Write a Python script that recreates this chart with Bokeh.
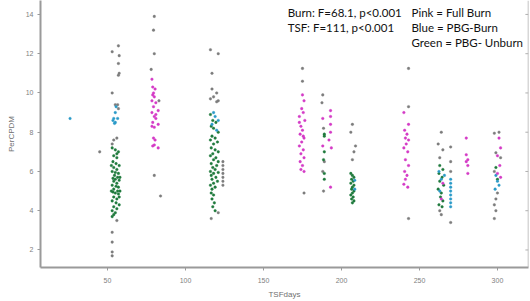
from bokeh.plotting import figure
from bokeh.models import ColumnDataSource, Label, Range1d, FixedTicker, Span
from bokeh.embed import file_html
from bokeh.resources import INLINE

# ---- data (TSF days, PerCPDM) ----
pink_x = [78.5, 79, 80.5, 79, 80, 78.5, 81, 79.5, 82.5, 78.5, 80, 81, 79, 82.5, 78.5, 80, 79.5, 80.5, 79, 80, 82.5, 81, 79.5,
          175, 176, 174.5, 175.5, 173, 176.5, 174, 175, 173.5, 176, 174.5, 173, 175.5, 174, 176, 173.5, 175, 174, 175.5, 173, 176,
          193, 193, 193, 193, 192, 193.5, 193, 188, 188,
          240, 243, 240.5, 242, 241, 243, 241.5, 240, 242.5, 241, 243, 240.5, 242, 241, 240, 242.5,
          265, 264,
          280, 280, 281, 281, 281, 280,
          301, 302, 300, 301.5, 300, 302]
pink_y = [10.7, 10.3, 10.2, 9.9, 9.8, 9.6, 9.5, 9.3, 9.1, 9.0, 8.8, 8.7, 8.5, 8.4, 8.3, 8.25, 7.7, 7.6, 7.3, 7.35, 7.2, 8.9, 10.0,
          9.9, 9.6, 9.2, 9.0, 8.8, 8.6, 8.3, 8.1, 7.9, 7.7, 7.5, 7.3, 7.1, 6.9, 6.7, 6.5, 6.3, 6.1, 7.8, 8.5, 6.0,
          9.1, 8.8, 8.4, 8.0, 7.6, 7.2, 5.2, 8.7, 7.3,
          9.0, 8.4, 8.1, 7.9, 7.7, 7.6, 7.4, 7.2, 7.0, 6.6, 6.3, 6.0, 5.8, 5.6, 5.35, 5.2,
          5.4, 4.6,
          7.7, 6.85, 6.6, 6.3, 5.9, 6.5,
          7.7, 7.2, 6.8, 6.3, 5.9, 5.7]

blue_x = [26, 55, 54, 53.5, 55, 54.5, 56.5, 55.5,
          118, 119, 121, 117, 120,
          208.5, 208.5,
          262.5, 264, 266, 263, 270, 270, 270, 270, 270, 270, 270, 270,
          299, 300, 301, 298.5]
blue_y = [8.7, 9.0, 8.7, 8.6, 8.5, 8.45, 8.7, 9.3,
          9.0, 8.8, 8.6, 8.4, 8.1,
          5.55, 5.1,
          6.0, 5.6, 5.8, 5.0, 5.6, 5.4, 5.2, 5.0, 4.8, 4.6, 4.4, 4.2,
          5.8, 5.5, 5.3, 5.1]

green_x = [53, 55, 57, 54, 56, 53.5, 55.5, 57.5, 54, 56, 53, 55, 57, 54.5, 56.5, 53.5, 55, 57.5, 54, 56, 53, 55.5, 57, 54,
           56.5, 53.5, 55, 57, 54, 56, 53, 55.5, 57.5, 54, 56, 53, 55, 54, 53, 56, 58, 58, 57.5, 52.5, 52.5,
           116, 117.5, 119.5, 116.5, 118, 121, 117, 119, 116, 120.5, 118, 116.5, 119, 121, 117.5, 116, 119.5, 118, 121, 116.5,
           120, 117.5, 119, 116, 121, 118, 116.5, 119.5, 117, 120.5, 118, 116, 119, 117, 116.5, 118, 117, 118.5, 117.5, 119,
           189, 189, 189, 188.5, 189, 189,
           206, 207, 208, 206.5, 207.5, 206, 208, 207, 206.5, 208, 207, 206, 207.5, 206.5, 208, 207,
           263, 265, 262.5, 264.5, 263, 265.5, 262, 264, 263.5, 265, 262.5, 264.5,
           299, 300]
green_y = [7.2, 7.1, 7.0, 6.8, 6.7, 6.5, 6.4, 6.3, 6.2, 6.1, 6.0, 5.95, 5.9, 5.8, 5.7, 5.65, 5.6, 5.55, 5.5, 5.4, 5.3, 5.25, 5.2, 5.1,
           5.0, 4.95, 4.9, 4.85, 4.7, 4.6, 4.5, 4.4, 4.3, 4.2, 4.1, 4.0, 3.9, 3.8, 3.7, 6.9, 5.7, 5.0, 4.7, 6.3, 5.0,
           8.9, 8.6, 8.5, 8.3, 8.2, 8.0, 7.8, 7.7, 7.6, 7.5, 7.4, 7.2, 7.1, 7.0, 6.9, 6.8, 6.7, 6.6, 6.5, 6.4,
           6.3, 6.2, 6.1, 6.0, 5.95, 5.9, 5.8, 5.7, 5.6, 5.5, 5.4, 5.3, 5.2, 5.1, 4.9, 4.8, 4.6, 4.4, 4.2, 4.0,
           7.9, 7.8, 7.0, 6.6, 5.9, 5.6,
           5.9, 5.8, 5.7, 5.6, 5.5, 5.4, 5.3, 5.2, 5.1, 5.0, 4.9, 4.8, 4.7, 4.6, 4.5, 4.4,
           6.3, 6.1, 5.9, 5.7, 5.5, 5.3, 5.1, 4.9, 4.7, 4.5, 4.3, 4.2,
           6.2, 5.6]

gray_x = [53, 57, 57.5, 57, 57.5, 57, 53, 55, 56.5, 57, 54, 56, 53, 45, 53, 53, 53, 53, 56,
          80, 79.5, 80, 78, 83, 80, 84,
          116, 121, 117, 117, 120, 118, 116, 121, 120, 116.5, 121, 124, 124, 124, 124, 124, 124, 124,
          175, 175, 176,
          188, 187.5, 188.5, 189, 188.5, 188,
          207, 206, 209, 207, 208,
          243, 243, 243,
          264, 262, 265, 263, 270, 270, 270, 264, 270, 263,
          298, 301, 299, 302, 298, 300, 299, 298, 299, 298]
gray_y = [12.1, 12.4, 11.9, 11.5, 11.0, 10.9, 10.0, 9.4, 9.4, 9.2, 7.6, 7.7, 7.4, 7.0, 2.9, 2.4, 1.9, 1.7, 3.5,
          13.9, 13.2, 12.0, 11.2, 9.6, 5.8, 4.75,
          12.2, 12.0, 11.0, 10.2, 10.0, 9.8, 9.7, 9.6, 9.55, 3.6, 3.9, 6.5, 6.3, 6.1, 5.9, 5.7, 5.5, 5.3,
          11.25, 10.6, 4.9,
          9.9, 9.5, 8.2, 6.5, 5.0, 6.0,
          8.4, 8.0, 7.3, 6.6, 7.0,
          11.25, 9.3, 3.6,
          8.0, 7.4, 7.1, 6.7, 7.25, 6.5, 6.0, 3.8, 3.4, 4.0,
          7.95, 8.0, 6.95, 6.7, 6.0, 4.9, 4.6, 4.3, 4.0, 3.6]

x_ticks = [50, 100, 150, 200, 250, 300]
y_ticks = [2, 4, 6, 8, 10, 12, 14]

stats_lines = ["Burn: F=68.1, p<0.001", "TSF: F=111, p<0.001"]
key_lines = ["Pink = Full Burn", "Blue = PBG-Burn", "Green = PBG- Unburn"]

X0, X1 = 7.05, 319.9
p = figure(width=530, height=301, output_backend="svg", toolbar_location=None,
           x_range=Range1d(X0, X1), y_range=Range1d(1.107, 14.71),
           min_border_left=40, min_border_right=2, min_border_top=0, min_border_bottom=33)
p.outline_line_color = None
p.xgrid.grid_line_color = None
p.ygrid.grid_line_color = None
p.background_fill_color = "white"
p.border_fill_color = "white"

series = [
    (gray_x, gray_y, "#7c7c7c"),
    (green_x, green_y, "#1f7a3c"),
    (blue_x, blue_y, "#2a9ac8"),
    (pink_x, pink_y, "#d43ac6"),
]
for xs, ys, col in series:
    src = ColumnDataSource(dict(x=xs, y=ys))
    p.scatter("x", "y", source=src, size=2.6, fill_color=col, line_color=col, line_width=0.4)

for ax in (p.xaxis[0], p.yaxis[0]):
    ax.axis_line_color = "#9a9a9a"
    ax.axis_line_width = 2
    ax.major_tick_line_color = "#9a9a9a"
    ax.major_tick_out = 3
    ax.major_tick_in = 0
    ax.minor_tick_line_color = None
    ax.major_label_text_font = "Liberation Sans"
    ax.major_label_text_font_size = "7px"
    ax.major_label_text_color = "#808080"
    ax.axis_label_text_font = "Liberation Sans"
    ax.axis_label_text_font_size = "8px"
    ax.axis_label_text_font_style = "normal"
    ax.axis_label_text_color = "#707070"

p.xaxis[0].ticker = FixedTicker(ticks=x_ticks)
p.yaxis[0].ticker = FixedTicker(ticks=y_ticks)
p.xaxis[0].axis_label = "TSFdays"
p.yaxis[0].axis_label = "PerCPDM"
p.xaxis[0].major_label_standoff = 7
p.xaxis[0].axis_label_standoff = 4
p.yaxis[0].major_label_standoff = 4
p.yaxis[0].axis_label_standoff = 7

# right-hand frame line with small inward ticks
p.add_layout(Span(location=X1, dimension="height", line_color="#b0b0b0", line_width=1.5))
p.segment(x0=[X1] * len(y_ticks), x1=[X1 - 2.0] * len(y_ticks), y0=y_ticks, y1=y_ticks,
          line_color="#b0b0b0", line_width=1)

for i, t in enumerate(stats_lines):
    p.add_layout(Label(x=165.5, y=14.1 - i * 0.76, text=t, text_font="Lato", text_font_size="11.5px",
                       text_color="#111111", text_baseline="middle"))
for i, t in enumerate(key_lines):
    p.add_layout(Label(x=244.9, y=14.1 - i * 0.76, text=t, text_font="Lato", text_font_size="11.5px",
                       text_color="#111111", text_baseline="middle"))

open("out.html", "w").write(file_html(p, INLINE))
